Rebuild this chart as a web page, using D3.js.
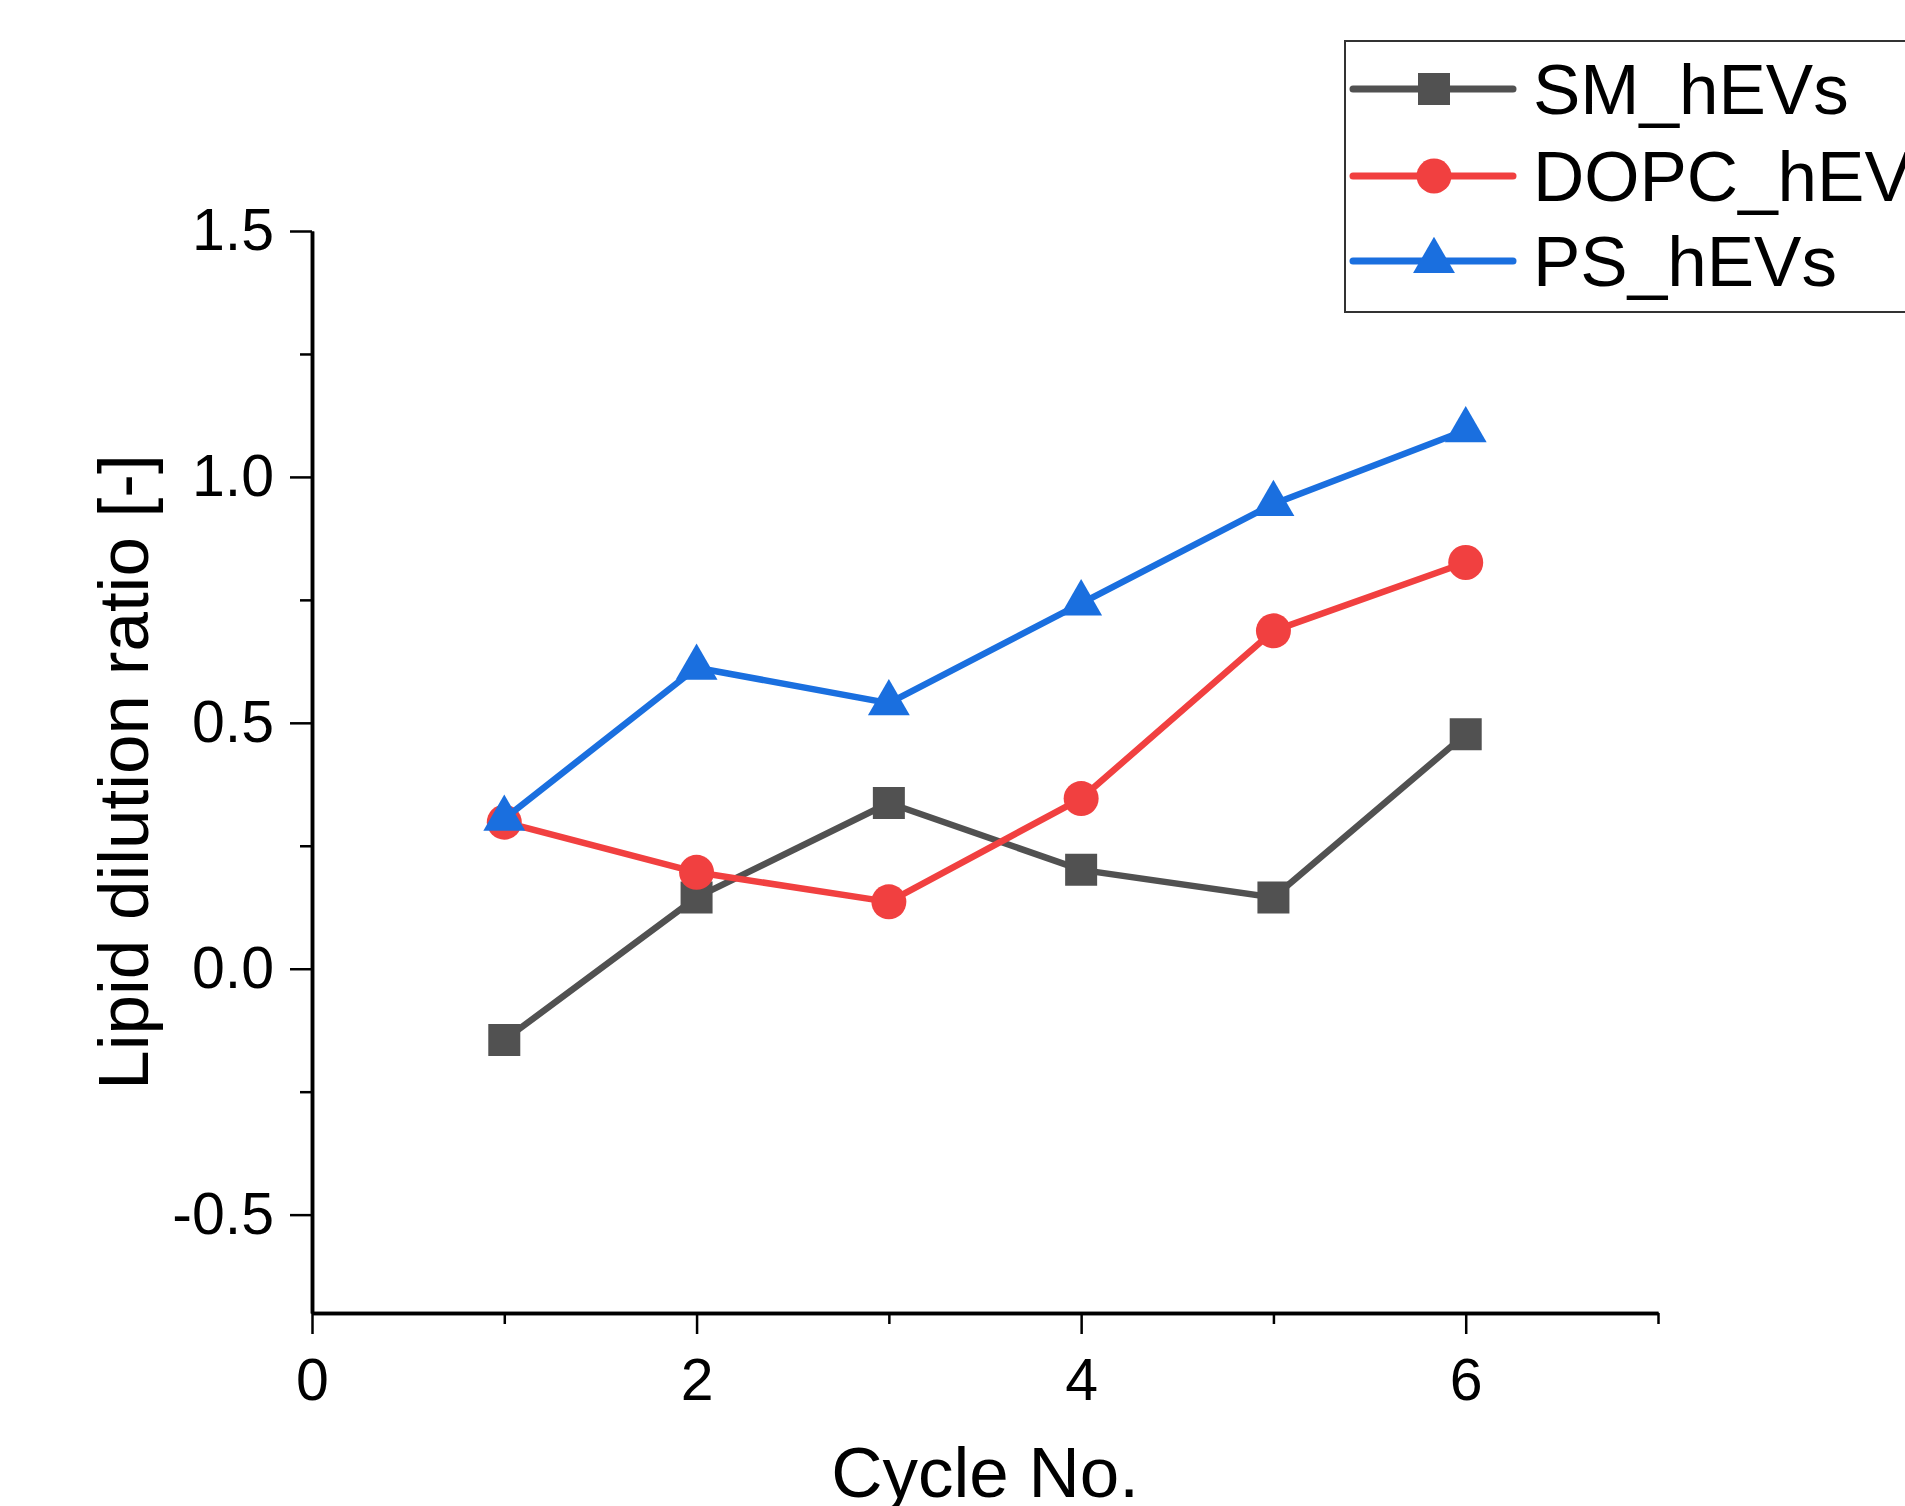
<!DOCTYPE html>
<html>
<head>
<meta charset="utf-8">
<script src="https://cdn.jsdelivr.net/npm/d3@7"></script>
<style>
  body { margin: 0; background: #fff; }
  svg { display: block; font-family: "Liberation Sans", Arial, sans-serif; }
</style>
</head>
<body>
<div id="chart"></div>
<script>
// data
var cycles = [1, 2, 3, 4, 5, 6];
var smValues = [-0.145, 0.145, 0.337, 0.201, 0.145, 0.477];
var dopcValues = [0.298, 0.196, 0.136, 0.346, 0.687, 0.826];
var psValues = [0.305, 0.612, 0.540, 0.743, 0.945, 1.095];
var seriesNames = ["SM_hEVs", "DOPC_hEVs", "PS_hEVs"];

var xMajor = [0, 2, 4, 6], xMinor = [1, 3, 5, 7];
var yMajor = [-0.5, 0.0, 0.5, 1.0, 1.5], yMinor = [-0.25, 0.25, 0.75, 1.25];

var W = 1905, H = 1506;
var margin = {top: 231, right: 247, bottom: 193, left: 312};
var width = W - margin.left - margin.right,
    height = H - margin.top - margin.bottom;

var svg = d3.select("#chart")
  .append("svg")
    .attr("width", W)
    .attr("height", H);

var g = svg.append("g")
  .attr("transform", "translate(" + margin.left + "," + margin.top + ")");

var x = d3.scaleLinear().domain([0, 7]).range([0, width]);
var y = d3.scaleLinear().domain([-0.7, 1.5]).range([height, 0]);

// minor ticks first
g.append("g")
  .attr("class", "axis")
  .attr("transform", "translate(0," + height + ")")
  .call(d3.axisBottom(x).tickValues(xMinor).tickSize(11).tickSizeOuter(0).tickFormat(""));
g.append("g")
  .attr("class", "axis")
  .call(d3.axisLeft(y).tickValues(yMinor).tickSize(12).tickSizeOuter(0).tickFormat(""));

// major ticks with labels
g.append("g")
  .attr("class", "axis")
  .attr("transform", "translate(0," + height + ")")
  .call(d3.axisBottom(x).tickValues(xMajor).tickSize(21).tickSizeOuter(0).tickPadding(24)
    .tickFormat(function(d) { return String(d); }));
g.append("g")
  .attr("class", "axis")
  .call(d3.axisLeft(y).tickValues(yMajor).tickSize(22).tickSizeOuter(0).tickPadding(16)
    .tickFormat(function(d) { return d.toFixed(1); }));

g.selectAll(".axis path.domain").attr("stroke", "#000").attr("stroke-width", 3.5);
g.selectAll(".axis .tick line").attr("stroke", "#000").attr("stroke-width", 2.5);
g.selectAll(".axis text")
  .attr("font-family", "Liberation Sans, Arial, sans-serif")
  .attr("font-size", "59px")
  .attr("fill", "#000");

// axis titles
svg.append("text")
  .attr("x", margin.left + width / 2)
  .attr("y", 1497)
  .attr("text-anchor", "middle")
  .attr("font-size", "71px")
  .text("Cycle No.");

svg.append("text")
  .attr("transform", "translate(148," + (margin.top + y(0.4)) + ") rotate(-90)")
  .attr("text-anchor", "middle")
  .attr("font-size", "71px")
  .text("Lipid dilution ratio [-]");

// series
var colors = ["#515151", "#F14040", "#1A6FDF"];
var shapes = [
  d3.symbol().type(d3.symbolSquare).size(1024),
  d3.symbol().type(d3.symbolCircle).size(962),
  d3.symbol().type(d3.symbolTriangle).size(760)
];
var allValues = [smValues, dopcValues, psValues];

var line = d3.line()
  .x(function(d) { return x(d[0]); })
  .y(function(d) { return y(d[1]); });

allValues.forEach(function(vals, i) {
  var pts = cycles.map(function(c, k) { return [c, vals[k]]; });
  g.append("path")
    .datum(pts)
    .attr("fill", "none")
    .attr("stroke", colors[i])
    .attr("stroke-width", 6.5)
    .attr("stroke-linejoin", "round")
    .attr("d", line);
  g.append("g")
    .selectAll("path")
    .data(pts)
    .enter()
    .append("path")
      .attr("transform", function(d) { return "translate(" + x(d[0]) + "," + y(d[1]) + ")"; })
      .attr("d", shapes[i])
      .attr("fill", colors[i]);
});

// legend, runs off the right edge like the original
var legend = svg.append("g").attr("transform", "translate(1345,41)");
legend.append("rect")
  .attr("width", 620)
  .attr("height", 271)
  .attr("fill", "#fff")
  .attr("stroke", "#333")
  .attr("stroke-width", 2);

var rowY = [48, 135, 220];
seriesNames.forEach(function(name, i) {
  var row = legend.append("g").attr("transform", "translate(0," + rowY[i] + ")");
  row.append("line")
    .attr("x1", 8).attr("x2", 168)
    .attr("stroke", colors[i])
    .attr("stroke-width", 7)
    .attr("stroke-linecap", "round");
  row.append("path")
    .attr("transform", "translate(89,0)")
    .attr("d", shapes[i])
    .attr("fill", colors[i]);
  row.append("text")
    .attr("x", 188)
    .attr("y", 25)
    .attr("font-size", "71px")
    .attr("fill", "#000")
    .text(name);
});
</script>
</body>
</html>
